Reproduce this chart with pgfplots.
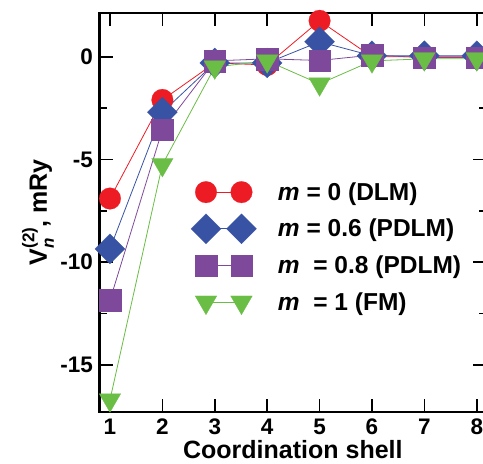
\documentclass[border=0pt]{standalone}
\usepackage{pgfplots}
\pgfplotsset{compat=1.18}
\usepackage{fontspec}
\setmainfont{Liberation Sans}
\definecolor{cred}{RGB}{237,28,36}
\definecolor{cblue}{RGB}{57,83,164}
\definecolor{cpurple}{RGB}{127,73,155}
\definecolor{cgreen}{RGB}{106,189,69}
\begin{document}
\begin{tikzpicture}
\begin{axis}[
  at={(99.5pt,52pt)}, anchor=south west,
  scale only axis, width=386.7pt, height=399pt,
  xmin=0.80, xmax=8.18, ymin=-17.29, ymax=2.13,
  xtick={1,2,3,4,5,6,7,8}, xticklabels={1,2,3,4,5,6,7,8},
  ytick={-15,-10,-5,0}, yticklabels={-15,-10,-5,0},
  minor ytick={-12.5,-7.5,-2.5},
  tick align=inside, xtick pos=both, ytick pos=both,
  major tick length=13pt, minor tick length=7pt,
  every tick/.style={black, line width=1.5pt},
  axis line style={line width=2.5pt},
  axis on top, clip=false,
  ticklabel style={font=\fontsize{22.5}{22.5}\selectfont\bfseries},
  yticklabel style={inner sep=6.5pt},
  xticklabel style={inner sep=7pt},
  xlabel={Coordination shell},
  xlabel style={font=\fontsize{25}{25}\selectfont\bfseries, at={(axis description cs:0.5,-0.116)}, anchor=base},
  ylabel={V\raisebox{-0.28em}{\makebox[0pt][l]{\fontsize{17}{17}\selectfont\textit{n}}}\raisebox{0.5em}{\fontsize{17}{17}\selectfont(2)}, mRy},
  ylabel style={font=\fontsize{25}{25}\selectfont\bfseries, at={(axis description cs:-0.136,0.5)}, anchor=base},
  legend image code/.code={\path[draw=none,fill=none] (-16pt,-18.35pt) rectangle (51.5pt,18.35pt); \draw[#1] plot coordinates {(0pt,0pt) (35.5pt,0pt)};},
  legend cell align=left,
  legend style={at={(axis description cs:0.234,0.597)}, anchor=north west, draw=none, fill=none, inner sep=0pt, outer sep=0pt, column sep=20.5pt, row sep=0pt, nodes={inner sep=0pt}, font=\fontsize{24.5}{24.5}\selectfont\bfseries},
]
\addplot[cred, line width=0.8pt, mark=*, mark size=10.8pt, mark options={fill=cred, draw=cred, line width=0.2pt}] coordinates {(1,-6.9)(2,-2.1)(3,-0.3)(4,-0.4)(5,1.75)(6,0.0)(7,0.0)(8,0.0)};
\addlegendentry{\textit{m} = 0 (DLM)}
\addplot[cblue, line width=0.8pt, mark=square*, mark size=10.6pt, mark options={rotate=45, fill=cblue, draw=cblue, line width=0.2pt}] coordinates {(1,-9.35)(2,-2.7)(3,-0.3)(4,-0.3)(5,0.73)(6,0.05)(7,0.05)(8,0.05)};
\addlegendentry{\textit{m} = 0.6 (PDLM)}
\addplot[cpurple, line width=0.8pt, mark=square*, mark size=10.8pt, mark options={fill=cpurple, draw=cpurple, line width=0.2pt}] coordinates {(1,-11.85)(2,-3.55)(3,-0.2)(4,-0.1)(5,-0.18)(6,0.08)(7,-0.04)(8,-0.04)};
\addlegendentry{\textit{m}\ \ = 0.8 (PDLM)}
\addplot[cgreen, line width=0.8pt, mark=triangle*, mark size=12.5pt, mark options={rotate=180, fill=cgreen, draw=cgreen, line width=0.2pt}] coordinates {(1,-16.7)(2,-5.25)(3,-0.5)(4,-0.2)(5,-1.32)(6,-0.2)(7,-0.1)(8,-0.1)};
\addlegendentry{\textit{m}\ \ = 1 (FM)}
\end{axis}
\pgfresetboundingbox
\useasboundingbox (0,0) rectangle (483pt,464pt);
\end{tikzpicture}
\end{document}
